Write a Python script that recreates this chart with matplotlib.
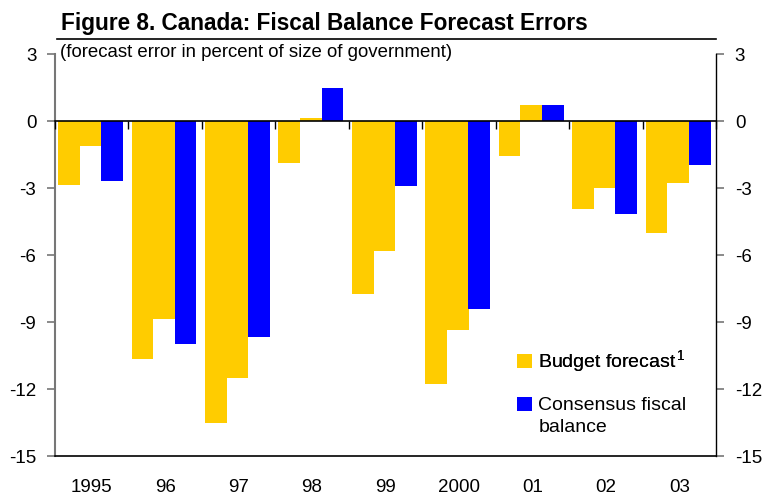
import matplotlib
matplotlib.use("Agg")
import matplotlib.pyplot as plt
import numpy as np
from matplotlib.patches import Patch

years = ["1995", "96", "97", "98", "99", "2000", "01", "02", "03"]
budget_first = [-2.85, -10.64, -13.5, -1.87, -7.73, -11.76, -1.55, -3.93, -5.0]
budget_second = [-1.1, -8.87, -11.5, 0.15, -5.8, -9.35, 0.72, -2.99, -2.76]
consensus = [-2.67, -9.97, -9.66, 1.48, -2.9, -8.4, 0.72, -4.15, -1.96]

YELLOW = "#FFCC00"
BLUE = "#0000FF"

plt.rcParams['font.family'] = ['Liberation Sans', 'DejaVu Sans']
plt.rcParams['mathtext.fontset'] = 'custom'
plt.rcParams['mathtext.rm'] = 'Liberation Sans'

fig = plt.figure(figsize=(7.64, 4.97), dpi=100)
ax = fig.add_axes([55/764, 1-456/497, (716-55)/764, (456-54)/497])

n = len(years)
g = np.arange(n)
w = 0.296
ax.bar(g + 0.19, budget_first, width=w, color=YELLOW, linewidth=0)
ax.bar(g + 0.484, budget_second, width=w, color=YELLOW, linewidth=0)
ax.bar(g + 0.778, consensus, width=w, color=BLUE, linewidth=0)

ax.set_xlim(0, n)
ax.set_ylim(-15, 3)
ax.set_yticks([3, 0, -3, -6, -9, -12, -15])
ax.set_yticklabels(["3", "0", "-3", "-6", "-9", "-12", "-15"])
ax.tick_params(axis='y', direction='out', length=6, width=1.2, color='#777777',
               labelsize=13.5, pad=7.5, left=True, right=True,
               labelleft=True, labelright=True)
ax.set_xticks(g + 0.5)
ax.set_xticklabels(years)
ax.tick_params(axis='x', length=0, labelsize=13.5, pad=16.5)

ax.spines['top'].set_visible(False)
ax.spines['left'].set_color('#777777')
ax.spines['left'].set_linewidth(1.5)
ax.spines['right'].set_color('black')
ax.spines['right'].set_linewidth(1.0)
ax.spines['bottom'].set_color('black')
ax.spines['bottom'].set_linewidth(1.2)

# zero line with group boundary ticks
ax2 = ax.twiny()
ax2.set_xlim(0, n)
for s in ['top', 'left', 'right']:
    ax2.spines[s].set_visible(False)
ax2.spines['bottom'].set_position(('data', 0))
ax2.spines['bottom'].set_linewidth(1.2)
ax2.xaxis.set_ticks_position('bottom')
ax2.set_xticks(np.arange(n + 1))
ax2.tick_params(axis='x', direction='out', length=6, width=1.0,
                labelbottom=False, labeltop=False, top=False)

# title and underline
fig.text(61/764, 1-30/497, "Figure 8. Canada: Fiscal Balance Forecast Errors",
         fontsize=16.3, fontweight='bold', va='baseline', ha='left')
fig.add_artist(plt.Line2D([57/764, 716/764], [1-39/497, 1-39/497],
                          color='black', lw=1.2, transform=fig.transFigure))
fig.text(60/764, 1-57/497, "(forecast error in percent of size of government)",
         fontsize=13.4, va='baseline', ha='left')

leg_kw = dict(frameon=False, fontsize=14, handlelength=0.75, handleheight=0.75,
              handletextpad=0.35, borderpad=0, borderaxespad=0,
              bbox_transform=fig.transFigure, loc='upper left')
leg1 = ax.legend([Patch(facecolor=YELLOW, edgecolor='none')],
                 ["Budget forecast$^{\\,1}$"],
                 bbox_to_anchor=(517/764, 1-348/497), **leg_kw)
ax.add_artist(leg1)
leg2 = ax2.legend([Patch(facecolor=BLUE, edgecolor='none')],
                  ["Consensus fiscal\nbalance"],
                  bbox_to_anchor=(517/764, 1-397/497), **leg_kw)
leg2.get_texts()[0].set_linespacing(1.35)
for vp in leg2._legend_handle_box.get_children():
    for hp in vp.get_children():
        hp.align = 'top'

fig.savefig("out.png", dpi=100)
